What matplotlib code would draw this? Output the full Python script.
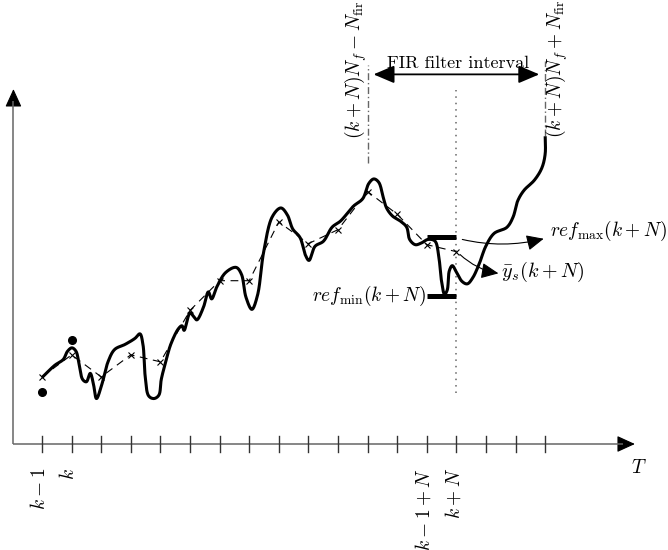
import numpy as np
import matplotlib
matplotlib.use("Agg")
import matplotlib.pyplot as plt
from matplotlib.patches import FancyArrowPatch

plt.rcParams["mathtext.fontset"] = "cm"

# ---- data -------------------------------------------------------------
# time steps shown on the horizontal axis (k-1 is step 0)
tick_steps = np.arange(18)
tick_labels = {0: r"$k-1$", 1: r"$k$", 13: r"$k-1+N$", 14: r"$k+N$"}

# measured output (solid curve): knots (step, value)
curve_t = [0.0, 0.43, 0.72, 0.86, 1.01, 1.15, 1.25, 1.37, 1.50, 1.63, 1.73, 1.84,
           2.02, 2.23, 2.45, 2.81, 3.14, 3.31, 3.41, 3.49, 3.60, 3.78, 3.95, 4.03,
           4.18, 4.35, 4.61, 4.73, 4.80, 5.00, 5.12, 5.23, 5.45, 5.62, 5.73, 5.91,
           6.20, 6.56, 6.74, 6.89, 7.09, 7.28, 7.49, 7.78, 8.07, 8.29, 8.47, 8.72,
           8.90, 9.02, 9.22, 9.51, 9.80, 10.09, 10.52, 10.84, 11.04, 11.21, 11.38,
           11.53, 11.64, 11.84, 12.10, 12.32, 12.42, 12.61, 12.82, 13.04, 13.28,
           13.40, 13.49, 13.60, 13.69, 13.76, 13.86, 14.01, 14.19, 14.37, 14.55,
           14.77, 14.99, 15.27, 15.71, 15.92, 16.07, 16.28, 16.64, 16.89, 17.00, 17.00]
curve_v = [1.90, 2.25, 2.42, 2.65, 2.75, 2.65, 2.30, 1.85, 1.78, 2.02, 1.75, 1.30,
           1.70, 2.35, 2.70, 2.85, 3.02, 3.15, 2.85, 1.90, 1.38, 1.30, 1.40, 1.85,
           2.35, 2.85, 3.30, 3.38, 3.25, 3.75, 3.65, 3.55, 3.90, 4.35, 4.15, 4.50,
           4.90, 5.05, 4.85, 4.20, 3.85, 4.25, 5.50, 6.50, 6.75, 6.55, 6.15, 5.90,
           5.40, 5.25, 5.65, 5.80, 6.20, 6.38, 6.80, 7.02, 7.45, 7.58, 7.48,
           7.05, 6.75, 6.52, 6.38, 6.20, 5.85, 5.70, 5.75, 5.85, 5.80,
           5.40, 4.70, 4.28, 4.40, 4.95, 5.10, 4.90, 4.65, 4.58, 4.75,
           5.15, 5.65, 6.02, 6.20, 6.50, 6.95, 7.25, 7.55, 7.90, 8.30, 8.80]

# filtered estimate at each sample step (dashed line with crosses)
est_steps = np.arange(15)
est_v = [1.92, 2.55, 1.92, 2.55, 2.35, 3.82, 4.67, 4.67, 6.35, 5.73, 6.13,
         7.22, 6.57, 5.70, 5.50]

# reference bounds at k-1 and k
bound_steps = [0, 1]
bound_v = [1.50, 2.98]

# reference band at k+N
ref_step_range = [13, 14]
ref_max = 5.92
ref_min = 4.23

# FIR filter window (in steps)
fir_left, fir_right = 11, 17


def catmull_rom(xs, ys, n=24, alpha=0.5):
    """Centripetal Catmull-Rom curve through the given knots."""
    P = np.column_stack([xs, ys]).astype(float)
    ext = np.vstack([2 * P[0] - P[1], P, 2 * P[-1] - P[-2]])
    pts = []
    for i in range(1, len(ext) - 2):
        p0, p1, p2, p3 = ext[i - 1:i + 3]

        def nxt(t, a, b):
            return t + max(np.linalg.norm(b - a), 1e-6) ** alpha

        t0 = 0.0
        t1 = nxt(t0, p0, p1)
        t2 = nxt(t1, p1, p2)
        t3 = nxt(t2, p2, p3)
        t = np.linspace(t1, t2, n)[:, None]
        A1 = (t1 - t) / (t1 - t0) * p0 + (t - t0) / (t1 - t0) * p1
        A2 = (t2 - t) / (t2 - t1) * p1 + (t - t1) / (t2 - t1) * p2
        A3 = (t3 - t) / (t3 - t2) * p2 + (t - t2) / (t3 - t2) * p3
        B1 = (t2 - t) / (t2 - t0) * A1 + (t - t0) / (t2 - t0) * A2
        B2 = (t3 - t) / (t3 - t1) * A2 + (t - t1) / (t3 - t1) * A3
        C = (t2 - t) / (t2 - t1) * B1 + (t - t1) / (t2 - t1) * B2
        pts.append(C if i == 1 else C[1:])
    pts = np.vstack(pts)
    return pts[:, 0], pts[:, 1]


# ---- figure -----------------------------------------------------------
fig = plt.figure(figsize=(6.68, 5.50), dpi=100)
ax = fig.add_axes([0, 0, 1, 1])
ax.set_xlim(-1.419, 21.149)
ax.set_ylim(-3.031, 12.697)
ax.axis("off")

axis_col = "#666666"
x0, y_top, x_end = -0.965, 10.15, 20.03

# coordinate axes with arrow heads
ax.plot([x0, x0], [0, y_top - 0.35], color=axis_col, lw=1.1, solid_capstyle="butt")
ax.plot([x0, x_end - 0.4], [0, 0], color=axis_col, lw=1.1, solid_capstyle="butt")
for start, tip in [((x0, y_top - 0.45), (x0, y_top)), ((x_end - 0.5, 0), (x_end, 0))]:
    ax.add_patch(FancyArrowPatch(start, tip, arrowstyle="-|>,head_length=7,head_width=3.2",
                                 color="black", lw=0.8, shrinkA=0, shrinkB=0,
                                 mutation_scale=1.6))

# ticks and their labels
for s in tick_steps:
    ax.plot([s, s], [-0.22, 0.22], color="#333333", lw=1.0)
for s, lab in tick_labels.items():
    ax.text(s - 0.1, -0.68, lab, rotation=90, ha="center", va="top", fontsize=14)
ax.text(20.15, -0.68, r"$T$", ha="center", va="center", fontsize=14)

# k+N marker line
ax.plot([14, 14], [1.45, 10.12], color="#666666", lw=1.1, linestyle=(0, (1, 3.2)))

# FIR window boundaries
ax.plot([fir_left, fir_left], [8.05, 10.85], color="#666666", lw=1.0,
        linestyle=(0, (5, 2, 1, 2)))
ax.plot([fir_right, fir_right], [8.80, 10.95], color="#666666", lw=1.0,
        linestyle=(0, (5, 2, 1, 2)))
ax.text(fir_left + 0.05, 8.72, r"$(k+N)N_f-N_{\mathrm{fir}}$", rotation=90,
        ha="right", va="bottom", fontsize=14)
ax.text(fir_right - 0.05, 8.76, r"$(k+N)N_f+N_{\mathrm{fir}}$", rotation=90,
        ha="left", va="bottom", fontsize=14)

# FIR interval double arrow
ax.add_patch(FancyArrowPatch((fir_left + 0.2, 10.57), (fir_right - 0.2, 10.57),
                             arrowstyle="<|-|>,head_length=8,head_width=3.4",
                             mutation_scale=1.6, color="black", lw=1.3,
                             shrinkA=0, shrinkB=0))
ax.text((fir_left + fir_right) / 2 + 0.05, 10.76, "FIR filter interval",
        family="cmr10", ha="center", va="baseline", fontsize=13)

# estimated trajectory
ax.plot(est_steps, est_v, color="black", lw=0.8, linestyle=(0, (7, 5)),
        marker="x", markersize=4.5, markeredgewidth=0.8)

# measured output
cx, cy = catmull_rom(curve_t, curve_v)
ax.plot(cx, cy, color="black", lw=2.2, solid_capstyle="butt")

# reference bounds
ax.plot(bound_steps, bound_v, "o", color="black", markersize=5.5, linestyle="none")
ax.plot(ref_step_range, [ref_max, ref_max], color="black", lw=3.6, solid_capstyle="butt")
ax.plot(ref_step_range, [ref_min, ref_min], color="black", lw=3.6, solid_capstyle="butt")

ax.text(ref_step_range[0] - 0.02, ref_min, r"$ref_{\min}(k+N)$",
        ha="right", va="center", fontsize=14)
ax.text(17.15, 6.1, r"$ref_{\max}(k+N)$", ha="left", va="center", fontsize=14)
ax.text(15.5, 4.92, r"$\bar{y}_s(k+N)$", ha="left", va="center", fontsize=14.5)

ax.add_patch(FancyArrowPatch((14.2, 5.85), (16.95, 5.87),
                             connectionstyle="arc3,rad=0.12",
                             arrowstyle="-|>,head_length=7,head_width=3.2",
                             mutation_scale=1.5, color="black", lw=0.8,
                             shrinkA=0, shrinkB=0))
ax.add_patch(FancyArrowPatch((14.12, 5.42), (15.42, 4.88),
                             connectionstyle="arc3,rad=0.15",
                             arrowstyle="-|>,head_length=7,head_width=3.2",
                             mutation_scale=1.5, color="black", lw=0.8,
                             shrinkA=0, shrinkB=0))

fig.savefig("out.png", dpi=100)
